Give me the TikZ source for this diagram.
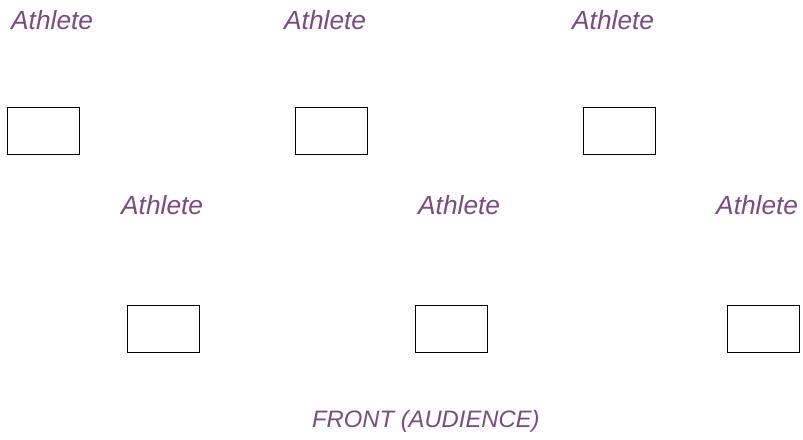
\documentclass[tikz,border=0pt]{standalone}
\usepackage{fontspec}
\setmainfont{Liberation Sans}
\definecolor{lbl}{RGB}{122,74,128}
\begin{document}
\begin{tikzpicture}[x=1pt,y=-1pt,
  lab/.style={anchor=base west,inner sep=0pt,text=lbl,font=\fontsize{26.3}{30}\selectfont\itshape},
  spot/.style={draw=black,line width=1.7pt,minimum width=72pt,minimum height=47pt,inner sep=0pt,anchor=north west}]
\useasboundingbox (0,0) rectangle (803,439);
\node[lab] (t1) at (11,29) {Athlete};
\node[lab] (t2) at (284,29) {Athlete};
\node[lab] (t3) at (572,29) {Athlete};
\node[lab] (t4) at (121,214) {Athlete};
\node[lab] (t5) at (418,214) {Athlete};
\node[lab] (t6) at (716,214) {Athlete};
\node[spot] (b1) at (6.5,106.5) {};
\node[spot] (b2) at (294.5,106.5) {};
\node[spot] (b3) at (582.5,106.5) {};
\node[spot] (b4) at (126.5,304.5) {};
\node[spot] (b5) at (414.5,304.5) {};
\node[spot] (b6) at (726.5,304.5) {};
\node[lab,font=\fontsize{23.8}{28}\selectfont\itshape] (front) at (312,427) {FRONT (AUDIENCE)};
\end{tikzpicture}
\end{document}
